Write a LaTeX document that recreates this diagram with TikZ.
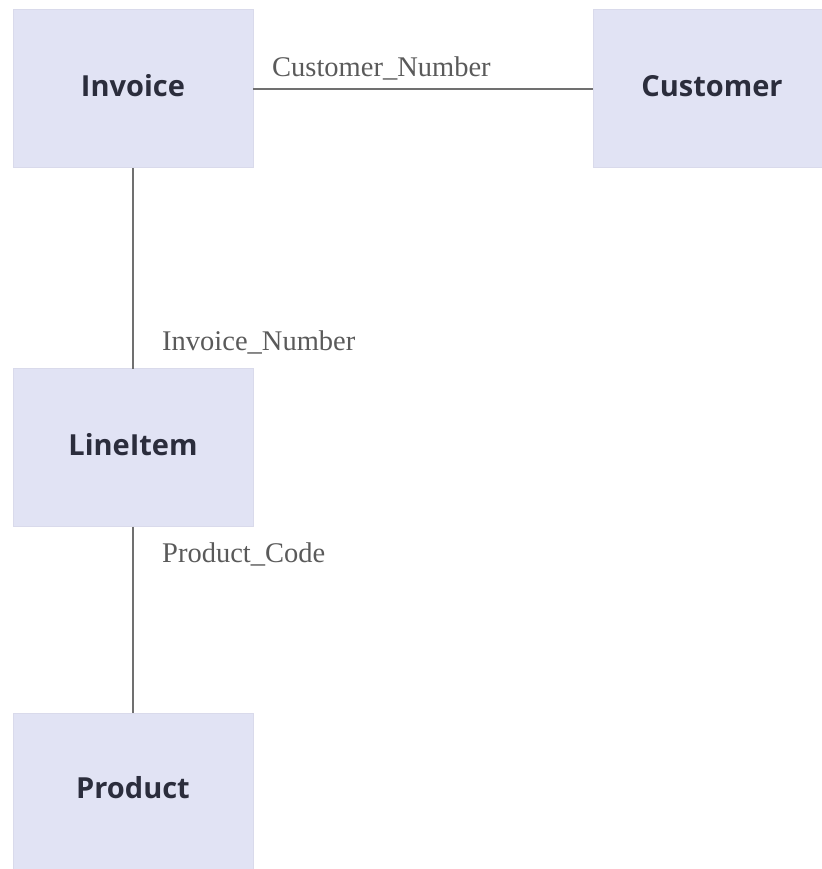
\documentclass[tikz,border=0pt]{standalone}
\usepackage{fontspec}
\setmainfont{Liberation Serif}
\newfontfamily\boxfont{Open Sans}
\definecolor{boxfill}{HTML}{E1E3F4}
\definecolor{boxedge}{HTML}{D9DAEB}
\definecolor{boxtext}{HTML}{2B2D3C}
\definecolor{linegray}{HTML}{707070}
\definecolor{labgray}{HTML}{5A5A5A}
\begin{document}
\begin{tikzpicture}[x=1pt,y=-1pt,
  entity/.style={rectangle, fill=boxfill, draw=boxedge, line width=1pt,
    minimum width=240pt, minimum height=158pt, inner sep=0pt, outer sep=0pt,
    text height=20pt, text depth=4pt,
    text=boxtext, font=\boxfont\bfseries\fontsize{29}{34}\selectfont},
  link/.style={draw=linegray, line width=1.3pt},
  attr/.style={anchor=base west, inner sep=0pt, text=labgray,
    font=\fontsize{28.5}{32}\selectfont}]
\useasboundingbox (0,0) rectangle (821,869);
\node[entity] (inv) at (133,89) {Invoice};
\node[entity, minimum width=238pt] (cust) at (712,89) {Customer};
\node[entity] (li) at (133,447.5) {LineItem};
\node[entity, text depth=7pt] (prod) at (133,792) {Product};
\draw[link] (inv.east) -- (cust.west);
\draw[link] (inv.south) -- (li.north);
\draw[link] (li.south) -- (prod.north);
\node[attr] (cn) at (272,77) {Customer\_Number};
\node[attr] (in) at (162,350) {Invoice\_Number};
\node[attr] (pc) at (162,562) {Product\_Code};
\end{tikzpicture}
\end{document}
